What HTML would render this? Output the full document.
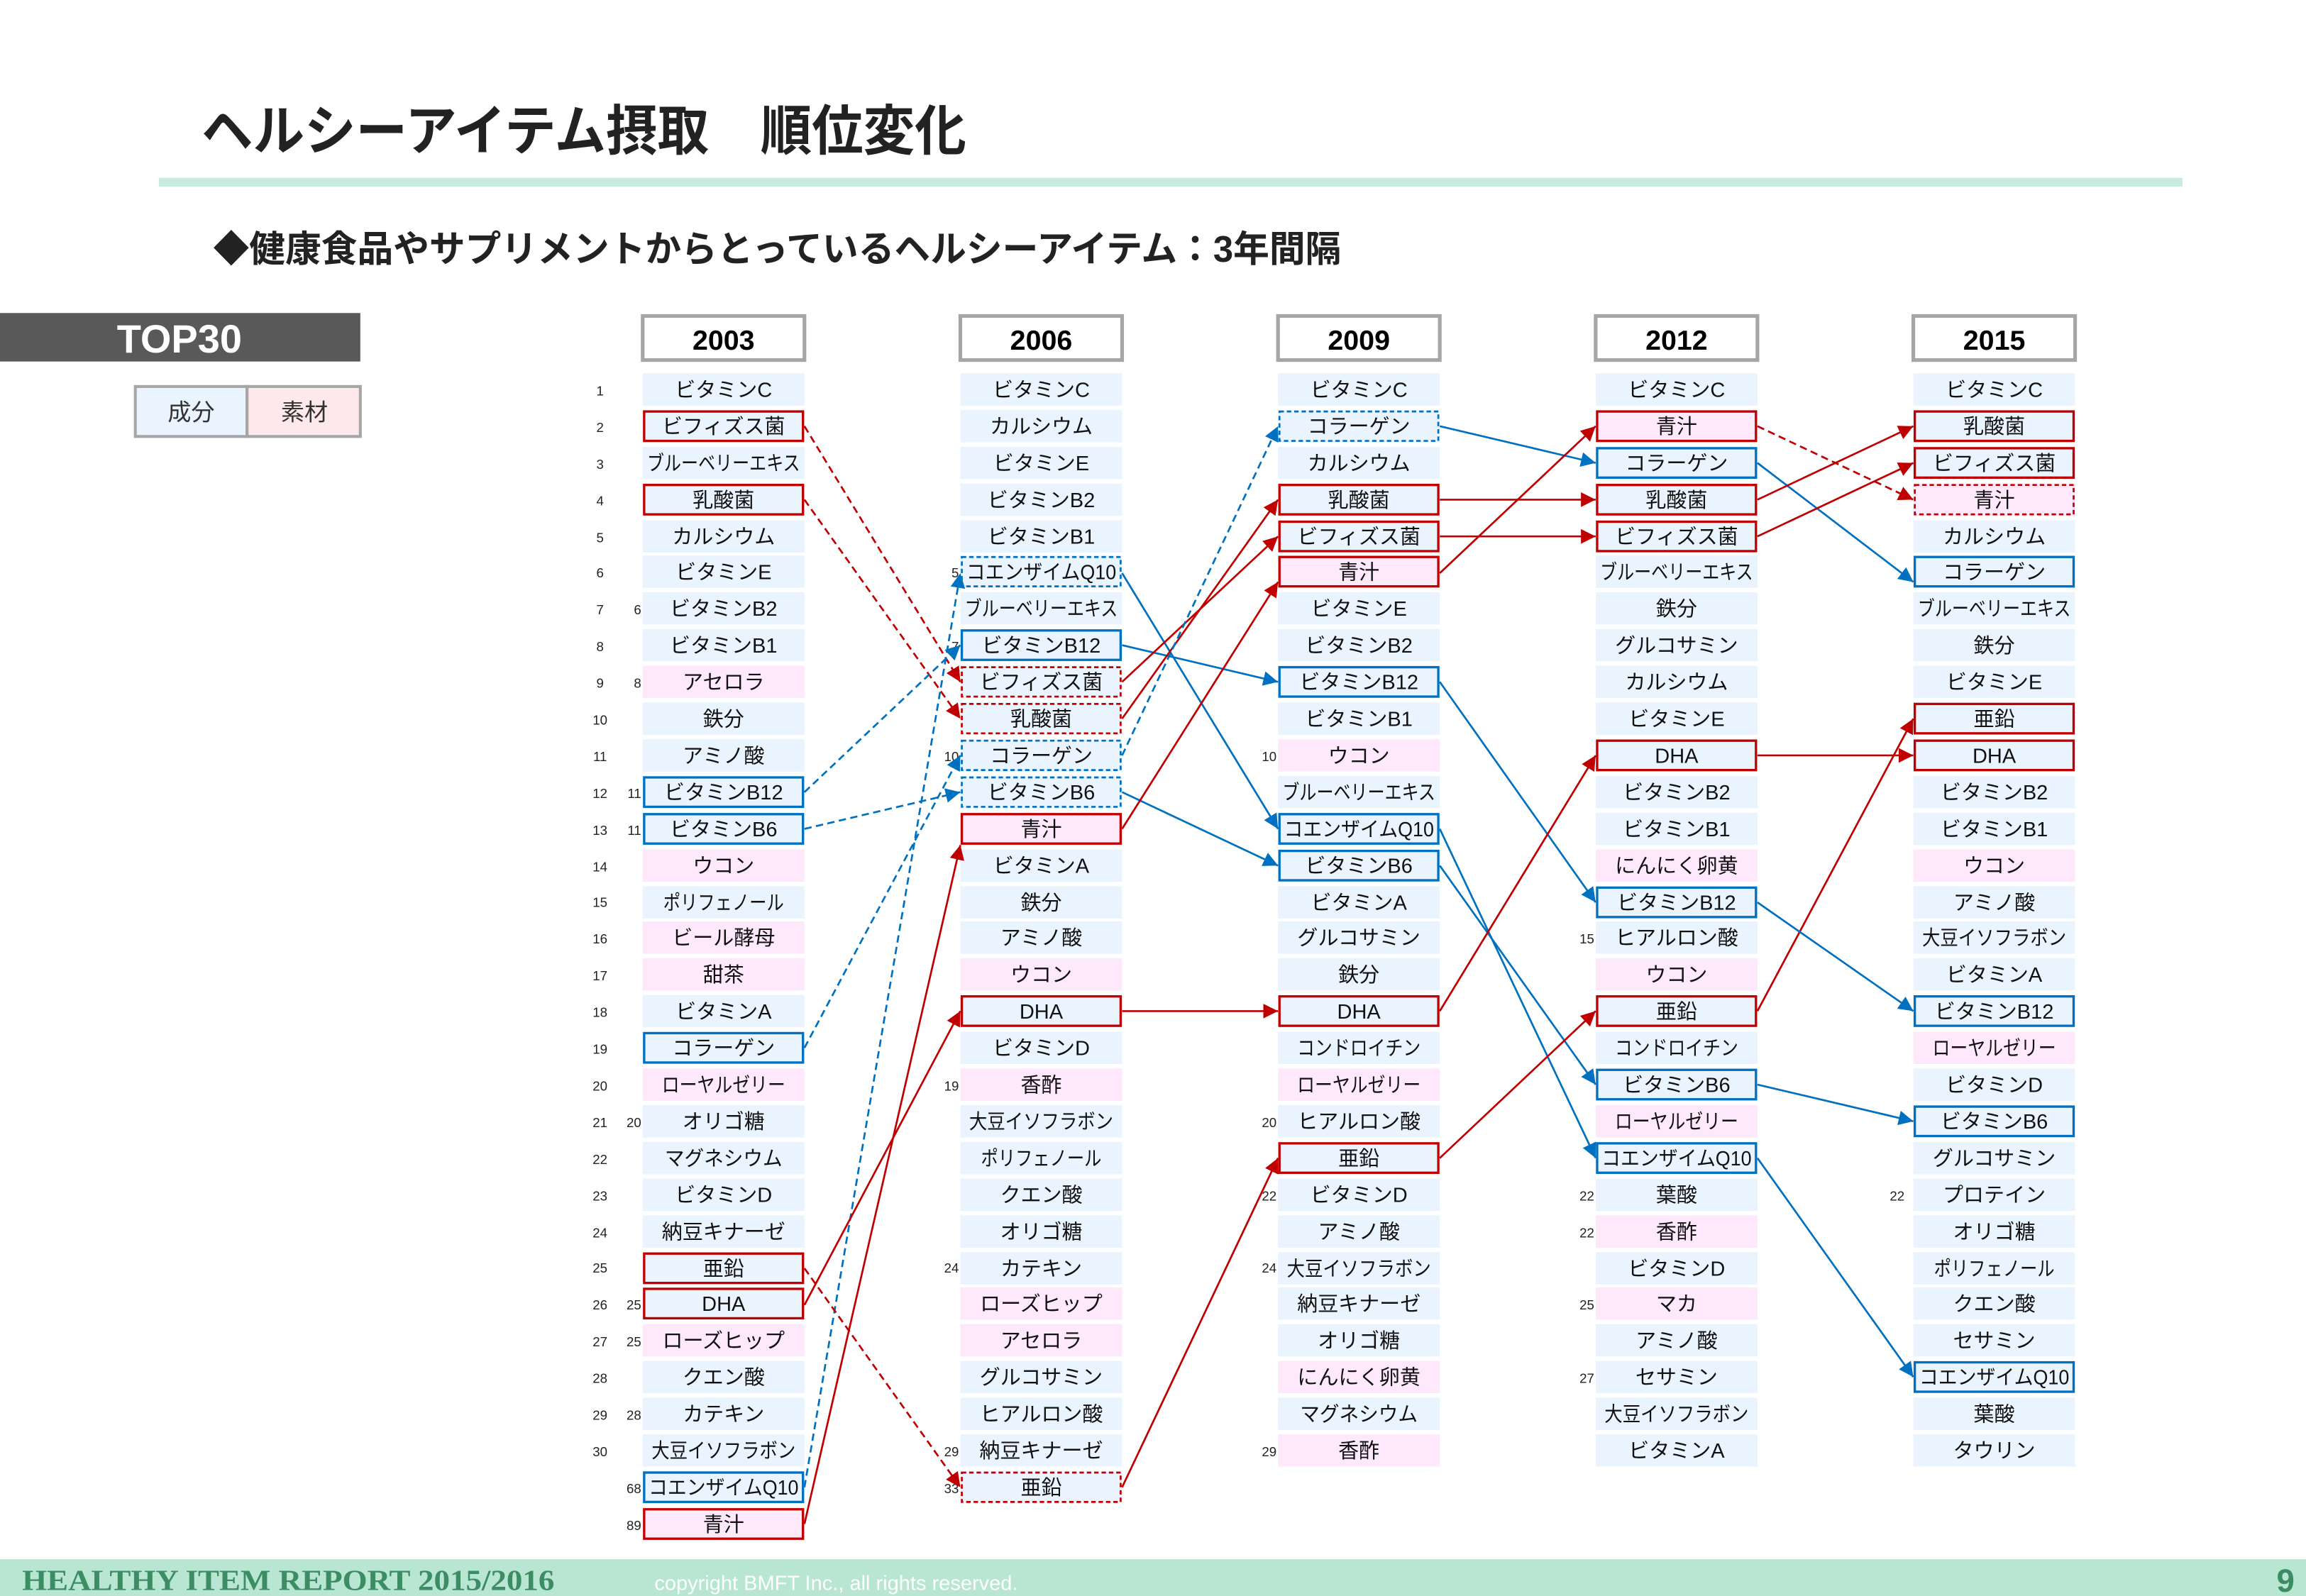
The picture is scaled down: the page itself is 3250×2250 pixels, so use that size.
<!DOCTYPE html>
<html><head><meta charset="utf-8">
<style>
html,body{margin:0;padding:0;background:#fff;}
svg{display:block;}
text{font-family:"Liberation Sans","Noto Sans CJK JP",sans-serif;}
.c text{font-size:14px;fill:#111;text-anchor:middle;}
.b{fill:#EAF4FE;}
.p{fill:#FDE9FB;}
.rb{fill:none;stroke:#C00000;stroke-width:1.6;}
.bb{fill:none;stroke:#0070C0;stroke-width:1.6;}
.rd{fill:none;stroke:#C00000;stroke-width:1.3;stroke-dasharray:3 2;}
.bd{fill:none;stroke:#0070C0;stroke-width:1.3;stroke-dasharray:3 2;}
.n text{font-size:9px;fill:#222;text-anchor:middle;}
.c text.s{font-size:9px;fill:#222;text-anchor:end;}
.lr{stroke:#C00000;stroke-width:1.3;fill:none;marker-end:url(#ar);}
.lb{stroke:#0070C0;stroke-width:1.3;fill:none;marker-end:url(#ab);}
.d{stroke-dasharray:5 3;}
.h rect{fill:#fff;stroke:#A6A6A6;stroke-width:2.5;}
.h text{font-size:19px;font-weight:bold;text-anchor:middle;fill:#000;}
</style></head>
<body>
<svg width="3250" height="2250" viewBox="0 0 1568 1086" preserveAspectRatio="none" xmlns="http://www.w3.org/2000/svg">
<defs>
<marker id="ar" markerUnits="userSpaceOnUse" markerWidth="12" markerHeight="12" refX="10" refY="5" orient="auto"><path d="M0,0 L10,5 L0,10 z" fill="#C00000"/></marker>
<marker id="ab" markerUnits="userSpaceOnUse" markerWidth="12" markerHeight="12" refX="10" refY="5" orient="auto"><path d="M0,0 L10,5 L0,10 z" fill="#0070C0"/></marker>
</defs>

<!-- Title -->
<text x="137" y="102" font-size="37" font-weight="bold" fill="#222" textLength="520" lengthAdjust="spacingAndGlyphs">ヘルシーアイテム摂取　順位変化</text>
<rect x="108" y="121" width="1376" height="6" fill="#C9EBDD"/>
<text x="145" y="178" font-size="25" font-weight="bold" fill="#222" textLength="767" lengthAdjust="spacingAndGlyphs">◆健康食品やサプリメントからとっているヘルシーアイテム：3年間隔</text>

<!-- TOP30 -->
<rect x="0" y="213" width="245" height="33" fill="#595959"/>
<text x="122" y="240" font-size="27" font-weight="bold" fill="#fff" text-anchor="middle">TOP30</text>
<rect x="92" y="263" width="76" height="34" fill="#EAF4FE" stroke="#A6A6A6" stroke-width="2"/>
<rect x="168" y="263" width="77" height="34" fill="#FDE9EC" stroke="#A6A6A6" stroke-width="2"/>
<text x="130" y="286" font-size="16" fill="#333" text-anchor="middle">成分</text>
<text x="207" y="286" font-size="16" fill="#333" text-anchor="middle">素材</text>

<!-- Headers -->
<g class="h">
<rect x="437" y="215" width="110" height="30"/><text x="492" y="238">2003</text>
<rect x="653" y="215" width="110" height="30"/><text x="708" y="238">2006</text>
<rect x="869" y="215" width="110" height="30"/><text x="924" y="238">2009</text>
<rect x="1085" y="215" width="110" height="30"/><text x="1140" y="238">2012</text>
<rect x="1301" y="215" width="110" height="30"/><text x="1356" y="238">2015</text>
</g>

<!-- rank numbers -->
<g class="n">
<text x="408" y="269">1</text><text x="408" y="294">2</text><text x="408" y="319">3</text><text x="408" y="344">4</text><text x="408" y="369">5</text><text x="408" y="393">6</text><text x="408" y="418">7</text><text x="408" y="443">8</text><text x="408" y="468">9</text><text x="408" y="493">10</text><text x="408" y="518">11</text><text x="408" y="543">12</text><text x="408" y="568">13</text><text x="408" y="593">14</text><text x="408" y="617">15</text><text x="408" y="642">16</text><text x="408" y="667">17</text><text x="408" y="692">18</text><text x="408" y="717">19</text><text x="408" y="742">20</text><text x="408" y="767">21</text><text x="408" y="792">22</text><text x="408" y="817">23</text><text x="408" y="842">24</text><text x="408" y="866">25</text><text x="408" y="891">26</text><text x="408" y="916">27</text><text x="408" y="941">28</text><text x="408" y="966">29</text><text x="408" y="991">30</text>
</g>

<!-- 2003 -->
<g class="c" transform="translate(437,0)">
<rect class="b" y="254" width="110" height="22"/><text x="55" y="270">ビタミンC</text>
<rect class="b" y="279" width="110" height="22"/><rect class="rb" x="1" y="280" width="108" height="20"/><text x="55" y="295">ビフィズス菌</text>
<rect class="b" y="304" width="110" height="22"/><text x="55" y="320" textLength="104" lengthAdjust="spacingAndGlyphs">ブルーベリーエキス</text>
<rect class="b" y="329" width="110" height="22"/><rect class="rb" x="1" y="330" width="108" height="20"/><text x="55" y="345">乳酸菌</text>
<rect class="b" y="354" width="110" height="22"/><text x="55" y="370">カルシウム</text>
<rect class="b" y="378" width="110" height="22"/><text x="55" y="394">ビタミンE</text>
<rect class="b" y="403" width="110" height="22"/><text x="55" y="419">ビタミンB2</text>
<rect class="b" y="428" width="110" height="22"/><text x="55" y="444">ビタミンB1</text>
<rect class="p" y="453" width="110" height="22"/><text x="55" y="469">アセロラ</text>
<rect class="b" y="478" width="110" height="22"/><text x="55" y="494">鉄分</text>
<rect class="b" y="503" width="110" height="22"/><text x="55" y="519">アミノ酸</text>
<rect class="b" y="528" width="110" height="22"/><rect class="bb" x="1" y="529" width="108" height="20"/><text x="55" y="544">ビタミンB12</text>
<rect class="b" y="553" width="110" height="22"/><rect class="bb" x="1" y="554" width="108" height="20"/><text x="55" y="569">ビタミンB6</text>
<rect class="p" y="578" width="110" height="22"/><text x="55" y="594">ウコン</text>
<rect class="b" y="603" width="110" height="22"/><text x="55" y="619" textLength="82" lengthAdjust="spacingAndGlyphs">ポリフェノール</text>
<rect class="p" y="627" width="110" height="22"/><text x="55" y="643">ビール酵母</text>
<rect class="p" y="652" width="110" height="22"/><text x="55" y="668">甜茶</text>
<rect class="b" y="677" width="110" height="22"/><text x="55" y="693">ビタミンA</text>
<rect class="b" y="702" width="110" height="22"/><rect class="bb" x="1" y="703" width="108" height="20"/><text x="55" y="718">コラーゲン</text>
<rect class="p" y="727" width="110" height="22"/><text x="55" y="743" textLength="84" lengthAdjust="spacingAndGlyphs">ローヤルゼリー</text>
<rect class="b" y="752" width="110" height="22"/><text x="55" y="768">オリゴ糖</text>
<rect class="b" y="777" width="110" height="22"/><text x="55" y="793" textLength="80" lengthAdjust="spacingAndGlyphs">マグネシウム</text>
<rect class="b" y="802" width="110" height="22"/><text x="55" y="818">ビタミンD</text>
<rect class="b" y="827" width="110" height="22"/><text x="55" y="843" textLength="84" lengthAdjust="spacingAndGlyphs">納豆キナーゼ</text>
<rect class="b" y="852" width="110" height="22"/><rect class="rb" x="1" y="853" width="108" height="20"/><text x="55" y="868">亜鉛</text>
<rect class="b" y="876" width="110" height="22"/><rect class="rb" x="1" y="877" width="108" height="20"/><text x="55" y="892">DHA</text>
<rect class="p" y="901" width="110" height="22"/><text x="55" y="917">ローズヒップ</text>
<rect class="b" y="926" width="110" height="22"/><text x="55" y="942">クエン酸</text>
<rect class="b" y="951" width="110" height="22"/><text x="55" y="967">カテキン</text>
<rect class="b" y="976" width="110" height="22"/><text x="55" y="992" textLength="98" lengthAdjust="spacingAndGlyphs">大豆イソフラボン</text>
<rect class="b" y="1001" width="110" height="22"/><rect class="bb" x="1" y="1002" width="108" height="20"/><text x="55" y="1017" textLength="102" lengthAdjust="spacingAndGlyphs">コエンザイムQ10</text>
<rect class="p" y="1026" width="110" height="22"/><rect class="rb" x="1" y="1027" width="108" height="20"/><text x="55" y="1042">青汁</text>
<text class="s" x="-1" y="418">6</text><text class="s" x="-1" y="468">8</text><text class="s" x="-1" y="543">11</text><text class="s" x="-1" y="568">11</text><text class="s" x="-1" y="767">20</text><text class="s" x="-1" y="891">25</text><text class="s" x="-1" y="916">25</text><text class="s" x="-1" y="966">28</text><text class="s" x="-1" y="1016">68</text><text class="s" x="-1" y="1041">89</text>
</g>

<!-- 2006 -->
<g class="c" transform="translate(653,0)">
<rect class="b" y="254" width="110" height="22"/><text x="55" y="270">ビタミンC</text>
<rect class="b" y="279" width="110" height="22"/><text x="55" y="295">カルシウム</text>
<rect class="b" y="304" width="110" height="22"/><text x="55" y="320">ビタミンE</text>
<rect class="b" y="329" width="110" height="22"/><text x="55" y="345">ビタミンB2</text>
<rect class="b" y="354" width="110" height="22"/><text x="55" y="370">ビタミンB1</text>
<rect class="b" y="378" width="110" height="22"/><rect class="bd" x="1" y="379" width="108" height="20"/><text x="55" y="394" textLength="102" lengthAdjust="spacingAndGlyphs">コエンザイムQ10</text>
<rect class="b" y="403" width="110" height="22"/><text x="55" y="419" textLength="104" lengthAdjust="spacingAndGlyphs">ブルーベリーエキス</text>
<rect class="b" y="428" width="110" height="22"/><rect class="bb" x="1" y="429" width="108" height="20"/><text x="55" y="444">ビタミンB12</text>
<rect class="b" y="453" width="110" height="22"/><rect class="rd" x="1" y="454" width="108" height="20"/><text x="55" y="469">ビフィズス菌</text>
<rect class="b" y="478" width="110" height="22"/><rect class="rd" x="1" y="479" width="108" height="20"/><text x="55" y="494">乳酸菌</text>
<rect class="b" y="503" width="110" height="22"/><rect class="bd" x="1" y="504" width="108" height="20"/><text x="55" y="519">コラーゲン</text>
<rect class="b" y="528" width="110" height="22"/><rect class="bd" x="1" y="529" width="108" height="20"/><text x="55" y="544">ビタミンB6</text>
<rect class="p" y="553" width="110" height="22"/><rect class="rb" x="1" y="554" width="108" height="20"/><text x="55" y="569">青汁</text>
<rect class="b" y="578" width="110" height="22"/><text x="55" y="594">ビタミンA</text>
<rect class="b" y="603" width="110" height="22"/><text x="55" y="619">鉄分</text>
<rect class="b" y="627" width="110" height="22"/><text x="55" y="643">アミノ酸</text>
<rect class="p" y="652" width="110" height="22"/><text x="55" y="668">ウコン</text>
<rect class="b" y="677" width="110" height="22"/><rect class="rb" x="1" y="678" width="108" height="20"/><text x="55" y="693">DHA</text>
<rect class="b" y="702" width="110" height="22"/><text x="55" y="718">ビタミンD</text>
<rect class="p" y="727" width="110" height="22"/><text x="55" y="743">香酢</text>
<rect class="b" y="752" width="110" height="22"/><text x="55" y="768" textLength="98" lengthAdjust="spacingAndGlyphs">大豆イソフラボン</text>
<rect class="b" y="777" width="110" height="22"/><text x="55" y="793" textLength="82" lengthAdjust="spacingAndGlyphs">ポリフェノール</text>
<rect class="b" y="802" width="110" height="22"/><text x="55" y="818">クエン酸</text>
<rect class="b" y="827" width="110" height="22"/><text x="55" y="843">オリゴ糖</text>
<rect class="b" y="852" width="110" height="22"/><text x="55" y="868">カテキン</text>
<rect class="p" y="876" width="110" height="22"/><text x="55" y="892">ローズヒップ</text>
<rect class="p" y="901" width="110" height="22"/><text x="55" y="917">アセロラ</text>
<rect class="b" y="926" width="110" height="22"/><text x="55" y="942">グルコサミン</text>
<rect class="b" y="951" width="110" height="22"/><text x="55" y="967">ヒアルロン酸</text>
<rect class="b" y="976" width="110" height="22"/><text x="55" y="992" textLength="84" lengthAdjust="spacingAndGlyphs">納豆キナーゼ</text>
<rect class="b" y="1001" width="110" height="22"/><rect class="rd" x="1" y="1002" width="108" height="20"/><text x="55" y="1017">亜鉛</text>
<text class="s" x="-1" y="393">5</text><text class="s" x="-1" y="443">7</text><text class="s" x="-1" y="518">10</text><text class="s" x="-1" y="742">19</text><text class="s" x="-1" y="866">24</text><text class="s" x="-1" y="991">29</text><text class="s" x="-1" y="1016">33</text>
</g>

<!-- 2009 -->
<g class="c" transform="translate(869,0)">
<rect class="b" y="254" width="110" height="22"/><text x="55" y="270">ビタミンC</text>
<rect class="b" y="279" width="110" height="22"/><rect class="bd" x="1" y="280" width="108" height="20"/><text x="55" y="295">コラーゲン</text>
<rect class="b" y="304" width="110" height="22"/><text x="55" y="320">カルシウム</text>
<rect class="b" y="329" width="110" height="22"/><rect class="rb" x="1" y="330" width="108" height="20"/><text x="55" y="345">乳酸菌</text>
<rect class="b" y="354" width="110" height="22"/><rect class="rb" x="1" y="355" width="108" height="20"/><text x="55" y="370">ビフィズス菌</text>
<rect class="p" y="378" width="110" height="22"/><rect class="rb" x="1" y="379" width="108" height="20"/><text x="55" y="394">青汁</text>
<rect class="b" y="403" width="110" height="22"/><text x="55" y="419">ビタミンE</text>
<rect class="b" y="428" width="110" height="22"/><text x="55" y="444">ビタミンB2</text>
<rect class="b" y="453" width="110" height="22"/><rect class="bb" x="1" y="454" width="108" height="20"/><text x="55" y="469">ビタミンB12</text>
<rect class="b" y="478" width="110" height="22"/><text x="55" y="494">ビタミンB1</text>
<rect class="p" y="503" width="110" height="22"/><text x="55" y="519">ウコン</text>
<rect class="b" y="528" width="110" height="22"/><text x="55" y="544" textLength="104" lengthAdjust="spacingAndGlyphs">ブルーベリーエキス</text>
<rect class="b" y="553" width="110" height="22"/><rect class="bb" x="1" y="554" width="108" height="20"/><text x="55" y="569" textLength="102" lengthAdjust="spacingAndGlyphs">コエンザイムQ10</text>
<rect class="b" y="578" width="110" height="22"/><rect class="bb" x="1" y="579" width="108" height="20"/><text x="55" y="594">ビタミンB6</text>
<rect class="b" y="603" width="110" height="22"/><text x="55" y="619">ビタミンA</text>
<rect class="b" y="627" width="110" height="22"/><text x="55" y="643">グルコサミン</text>
<rect class="b" y="652" width="110" height="22"/><text x="55" y="668">鉄分</text>
<rect class="b" y="677" width="110" height="22"/><rect class="rb" x="1" y="678" width="108" height="20"/><text x="55" y="693">DHA</text>
<rect class="b" y="702" width="110" height="22"/><text x="55" y="718" textLength="84" lengthAdjust="spacingAndGlyphs">コンドロイチン</text>
<rect class="p" y="727" width="110" height="22"/><text x="55" y="743" textLength="84" lengthAdjust="spacingAndGlyphs">ローヤルゼリー</text>
<rect class="b" y="752" width="110" height="22"/><text x="55" y="768">ヒアルロン酸</text>
<rect class="b" y="777" width="110" height="22"/><rect class="rb" x="1" y="778" width="108" height="20"/><text x="55" y="793">亜鉛</text>
<rect class="b" y="802" width="110" height="22"/><text x="55" y="818">ビタミンD</text>
<rect class="b" y="827" width="110" height="22"/><text x="55" y="843">アミノ酸</text>
<rect class="b" y="852" width="110" height="22"/><text x="55" y="868" textLength="98" lengthAdjust="spacingAndGlyphs">大豆イソフラボン</text>
<rect class="b" y="876" width="110" height="22"/><text x="55" y="892" textLength="84" lengthAdjust="spacingAndGlyphs">納豆キナーゼ</text>
<rect class="b" y="901" width="110" height="22"/><text x="55" y="917">オリゴ糖</text>
<rect class="p" y="926" width="110" height="22"/><text x="55" y="942">にんにく卵黄</text>
<rect class="b" y="951" width="110" height="22"/><text x="55" y="967" textLength="80" lengthAdjust="spacingAndGlyphs">マグネシウム</text>
<rect class="p" y="976" width="110" height="22"/><text x="55" y="992">香酢</text>
<text class="s" x="-1" y="518">10</text><text class="s" x="-1" y="767">20</text><text class="s" x="-1" y="817">22</text><text class="s" x="-1" y="866">24</text><text class="s" x="-1" y="991">29</text>
</g>

<!-- 2012 -->
<g class="c" transform="translate(1085,0)">
<rect class="b" y="254" width="110" height="22"/><text x="55" y="270">ビタミンC</text>
<rect class="p" y="279" width="110" height="22"/><rect class="rb" x="1" y="280" width="108" height="20"/><text x="55" y="295">青汁</text>
<rect class="b" y="304" width="110" height="22"/><rect class="bb" x="1" y="305" width="108" height="20"/><text x="55" y="320">コラーゲン</text>
<rect class="b" y="329" width="110" height="22"/><rect class="rb" x="1" y="330" width="108" height="20"/><text x="55" y="345">乳酸菌</text>
<rect class="b" y="354" width="110" height="22"/><rect class="rb" x="1" y="355" width="108" height="20"/><text x="55" y="370">ビフィズス菌</text>
<rect class="b" y="378" width="110" height="22"/><text x="55" y="394" textLength="104" lengthAdjust="spacingAndGlyphs">ブルーベリーエキス</text>
<rect class="b" y="403" width="110" height="22"/><text x="55" y="419">鉄分</text>
<rect class="b" y="428" width="110" height="22"/><text x="55" y="444">グルコサミン</text>
<rect class="b" y="453" width="110" height="22"/><text x="55" y="469">カルシウム</text>
<rect class="b" y="478" width="110" height="22"/><text x="55" y="494">ビタミンE</text>
<rect class="b" y="503" width="110" height="22"/><rect class="rb" x="1" y="504" width="108" height="20"/><text x="55" y="519">DHA</text>
<rect class="b" y="528" width="110" height="22"/><text x="55" y="544">ビタミンB2</text>
<rect class="b" y="553" width="110" height="22"/><text x="55" y="569">ビタミンB1</text>
<rect class="p" y="578" width="110" height="22"/><text x="55" y="594">にんにく卵黄</text>
<rect class="b" y="603" width="110" height="22"/><rect class="bb" x="1" y="604" width="108" height="20"/><text x="55" y="619">ビタミンB12</text>
<rect class="b" y="627" width="110" height="22"/><text x="55" y="643">ヒアルロン酸</text>
<rect class="p" y="652" width="110" height="22"/><text x="55" y="668">ウコン</text>
<rect class="b" y="677" width="110" height="22"/><rect class="rb" x="1" y="678" width="108" height="20"/><text x="55" y="693">亜鉛</text>
<rect class="b" y="702" width="110" height="22"/><text x="55" y="718" textLength="84" lengthAdjust="spacingAndGlyphs">コンドロイチン</text>
<rect class="b" y="727" width="110" height="22"/><rect class="bb" x="1" y="728" width="108" height="20"/><text x="55" y="743">ビタミンB6</text>
<rect class="p" y="752" width="110" height="22"/><text x="55" y="768" textLength="84" lengthAdjust="spacingAndGlyphs">ローヤルゼリー</text>
<rect class="b" y="777" width="110" height="22"/><rect class="bb" x="1" y="778" width="108" height="20"/><text x="55" y="793" textLength="102" lengthAdjust="spacingAndGlyphs">コエンザイムQ10</text>
<rect class="b" y="802" width="110" height="22"/><text x="55" y="818">葉酸</text>
<rect class="p" y="827" width="110" height="22"/><text x="55" y="843">香酢</text>
<rect class="b" y="852" width="110" height="22"/><text x="55" y="868">ビタミンD</text>
<rect class="p" y="876" width="110" height="22"/><text x="55" y="892">マカ</text>
<rect class="b" y="901" width="110" height="22"/><text x="55" y="917">アミノ酸</text>
<rect class="b" y="926" width="110" height="22"/><text x="55" y="942">セサミン</text>
<rect class="b" y="951" width="110" height="22"/><text x="55" y="967" textLength="98" lengthAdjust="spacingAndGlyphs">大豆イソフラボン</text>
<rect class="b" y="976" width="110" height="22"/><text x="55" y="992">ビタミンA</text>
<text class="s" x="-1" y="642">15</text><text class="s" x="-1" y="817">22</text><text class="s" x="-1" y="842">22</text><text class="s" x="-1" y="891">25</text><text class="s" x="-1" y="941">27</text>
</g>

<!-- 2015 -->
<g class="c" transform="translate(1301,0)">
<rect class="b" y="254" width="110" height="22"/><text x="55" y="270">ビタミンC</text>
<rect class="b" y="279" width="110" height="22"/><rect class="rb" x="1" y="280" width="108" height="20"/><text x="55" y="295">乳酸菌</text>
<rect class="b" y="304" width="110" height="22"/><rect class="rb" x="1" y="305" width="108" height="20"/><text x="55" y="320">ビフィズス菌</text>
<rect class="p" y="329" width="110" height="22"/><rect class="rd" x="1" y="330" width="108" height="20"/><text x="55" y="345">青汁</text>
<rect class="b" y="354" width="110" height="22"/><text x="55" y="370">カルシウム</text>
<rect class="b" y="378" width="110" height="22"/><rect class="bb" x="1" y="379" width="108" height="20"/><text x="55" y="394">コラーゲン</text>
<rect class="b" y="403" width="110" height="22"/><text x="55" y="419" textLength="104" lengthAdjust="spacingAndGlyphs">ブルーベリーエキス</text>
<rect class="b" y="428" width="110" height="22"/><text x="55" y="444">鉄分</text>
<rect class="b" y="453" width="110" height="22"/><text x="55" y="469">ビタミンE</text>
<rect class="b" y="478" width="110" height="22"/><rect class="rb" x="1" y="479" width="108" height="20"/><text x="55" y="494">亜鉛</text>
<rect class="b" y="503" width="110" height="22"/><rect class="rb" x="1" y="504" width="108" height="20"/><text x="55" y="519">DHA</text>
<rect class="b" y="528" width="110" height="22"/><text x="55" y="544">ビタミンB2</text>
<rect class="b" y="553" width="110" height="22"/><text x="55" y="569">ビタミンB1</text>
<rect class="p" y="578" width="110" height="22"/><text x="55" y="594">ウコン</text>
<rect class="b" y="603" width="110" height="22"/><text x="55" y="619">アミノ酸</text>
<rect class="b" y="627" width="110" height="22"/><text x="55" y="643" textLength="98" lengthAdjust="spacingAndGlyphs">大豆イソフラボン</text>
<rect class="b" y="652" width="110" height="22"/><text x="55" y="668">ビタミンA</text>
<rect class="b" y="677" width="110" height="22"/><rect class="bb" x="1" y="678" width="108" height="20"/><text x="55" y="693">ビタミンB12</text>
<rect class="p" y="702" width="110" height="22"/><text x="55" y="718" textLength="84" lengthAdjust="spacingAndGlyphs">ローヤルゼリー</text>
<rect class="b" y="727" width="110" height="22"/><text x="55" y="743">ビタミンD</text>
<rect class="b" y="752" width="110" height="22"/><rect class="bb" x="1" y="753" width="108" height="20"/><text x="55" y="768">ビタミンB6</text>
<rect class="b" y="777" width="110" height="22"/><text x="55" y="793">グルコサミン</text>
<rect class="b" y="802" width="110" height="22"/><text x="55" y="818">プロテイン</text>
<rect class="b" y="827" width="110" height="22"/><text x="55" y="843">オリゴ糖</text>
<rect class="b" y="852" width="110" height="22"/><text x="55" y="868" textLength="82" lengthAdjust="spacingAndGlyphs">ポリフェノール</text>
<rect class="b" y="876" width="110" height="22"/><text x="55" y="892">クエン酸</text>
<rect class="b" y="901" width="110" height="22"/><text x="55" y="917">セサミン</text>
<rect class="b" y="926" width="110" height="22"/><rect class="bb" x="1" y="927" width="108" height="20"/><text x="55" y="942" textLength="102" lengthAdjust="spacingAndGlyphs">コエンザイムQ10</text>
<rect class="b" y="951" width="110" height="22"/><text x="55" y="967">葉酸</text>
<rect class="b" y="976" width="110" height="22"/><text x="55" y="992">タウリン</text>
<text class="s" x="-6" y="817">22</text>
</g>

<!-- connectors 2003 -> 2006 -->
<line class="lr d" x1="547" y1="290" x2="653" y2="464"/>
<line class="lr d" x1="547" y1="340" x2="653" y2="489"/>
<line class="lb d" x1="547" y1="539" x2="653" y2="439"/>
<line class="lb d" x1="547" y1="564" x2="653" y2="539"/>
<line class="lb d" x1="547" y1="713" x2="653" y2="514"/>
<line class="lb d" x1="547" y1="1012" x2="653" y2="390"/>
<line class="lr d" x1="547" y1="863" x2="653" y2="1012"/>
<line class="lr" x1="547" y1="888" x2="653" y2="688"/>
<line class="lr" x1="547" y1="1037" x2="653" y2="575"/>
<!-- 2006 -> 2009 -->
<line class="lb" x1="763" y1="390" x2="869" y2="564"/>
<line class="lb" x1="763" y1="439" x2="869" y2="464"/>
<line class="lr" x1="763" y1="464" x2="869" y2="365"/>
<line class="lr" x1="763" y1="489" x2="869" y2="340"/>
<line class="lb d" x1="763" y1="514" x2="869" y2="290"/>
<line class="lb" x1="763" y1="539" x2="869" y2="589"/>
<line class="lr" x1="763" y1="564" x2="869" y2="396"/>
<line class="lr" x1="763" y1="688" x2="869" y2="688"/>
<line class="lr" x1="763" y1="1012" x2="869" y2="788"/>
<!-- 2009 -> 2012 -->
<line class="lb" x1="979" y1="290" x2="1085" y2="315"/>
<line class="lr" x1="979" y1="340" x2="1085" y2="340"/>
<line class="lr" x1="979" y1="365" x2="1085" y2="365"/>
<line class="lr" x1="979" y1="390" x2="1085" y2="290"/>
<line class="lb" x1="979" y1="464" x2="1085" y2="614"/>
<line class="lb" x1="979" y1="564" x2="1085" y2="788"/>
<line class="lb" x1="979" y1="589" x2="1085" y2="738"/>
<line class="lr" x1="979" y1="688" x2="1085" y2="514"/>
<line class="lr" x1="979" y1="788" x2="1085" y2="688"/>
<!-- 2012 -> 2015 -->
<line class="lr d" x1="1195" y1="290" x2="1301" y2="340"/>
<line class="lb" x1="1195" y1="315" x2="1301" y2="396"/>
<line class="lr" x1="1195" y1="340" x2="1301" y2="290"/>
<line class="lr" x1="1195" y1="365" x2="1301" y2="315"/>
<line class="lr" x1="1195" y1="514" x2="1301" y2="514"/>
<line class="lr" x1="1195" y1="688" x2="1301" y2="489"/>
<line class="lb" x1="1195" y1="614" x2="1301" y2="688"/>
<line class="lb" x1="1195" y1="738" x2="1301" y2="763"/>
<line class="lb" x1="1195" y1="788" x2="1301" y2="937"/>

<!-- footer -->
<rect x="0" y="1061" width="1568" height="25" fill="#B8E6D3"/>
<text x="15" y="1082" style="font-family:'Liberation Serif',serif" font-size="20" font-weight="bold" fill="#3C8C64" textLength="362" lengthAdjust="spacingAndGlyphs">HEALTHY ITEM REPORT 2015/2016</text>
<text x="445" y="1082" font-size="14" fill="#fff">copyright  BMFT Inc., all rights reserved.</text>
<text x="1548" y="1083" font-size="22" font-weight="bold" fill="#3C8C64">9</text>
</svg>
</body></html>
